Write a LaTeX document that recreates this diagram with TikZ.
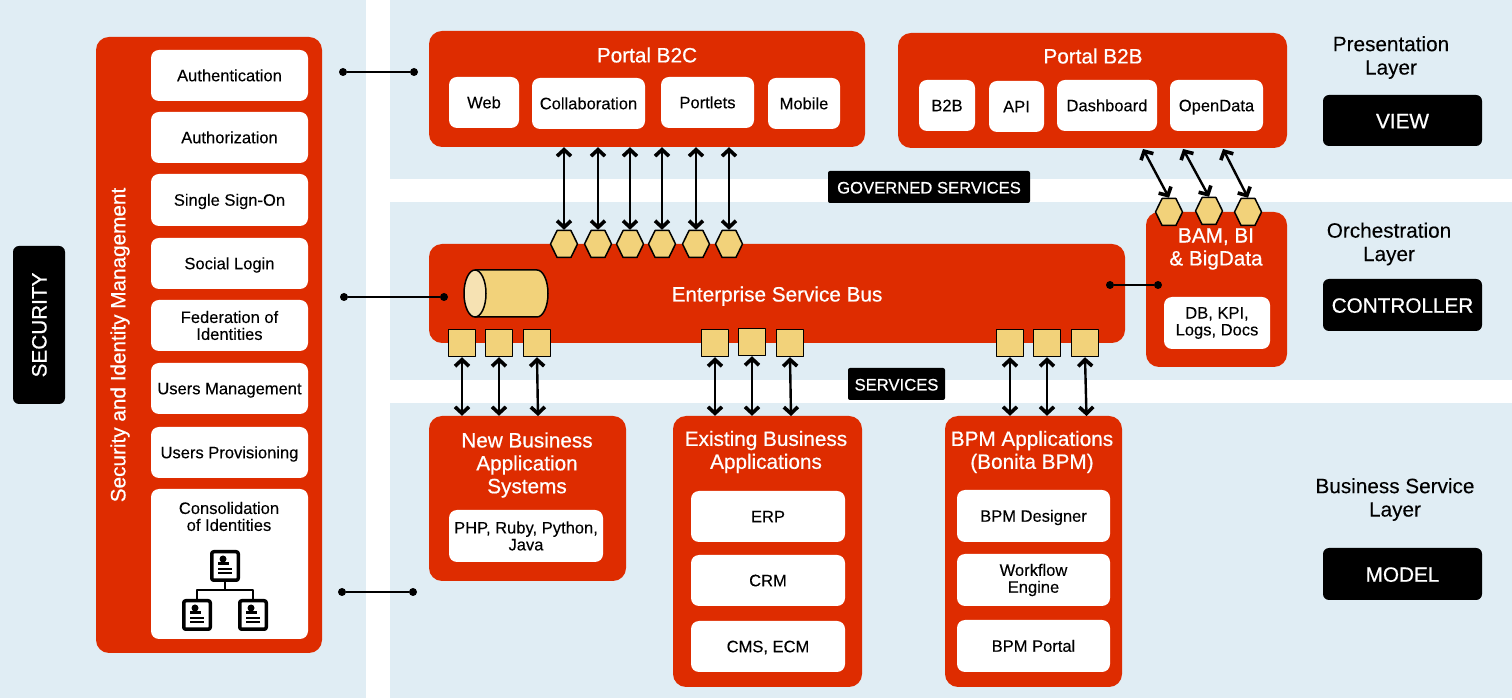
\documentclass[tikz,border=0pt]{standalone}
\usepackage{fontspec}
\setmainfont[FakeBold=0.15]{Liberation Sans}
\newfontfamily\whitefont[FakeBold=0.6]{Liberation Sans}
\usetikzlibrary{arrows.meta,shapes.symbols}
\definecolor{panelblue}{HTML}{E0EDF4}
\definecolor{busred}{HTML}{DE2C00}
\definecolor{portyellow}{HTML}{F2D27A}
\definecolor{capyellow}{HTML}{F6E2B3}
\newcommand{\cardmark}[1]{%
  \begin{scope}[shift={(#1)}]
    \fill (-2bp,7bp) circle (3.5bp);
    \fill (-7bp,0.5bp) rectangle (4bp,4bp);
    \draw [line width=1.6bp] (-7bp,-3bp) -- (7bp,-3bp);
    \draw [line width=1.6bp] (-7bp,-7bp) -- (7bp,-7bp);
  \end{scope}}
\begin{document}
\begin{tikzpicture}[>={Straight Barb[length=6.5bp,width=14bp,line width=3.6bp]},line join=bevel,
    redbox/.style={fill=busred,rounded corners=13bp,text=white,align=center,font=\whitefont\fontsize{20.8}{23}\selectfont,inner sep=0pt},
    whitebox/.style={fill=white,rounded corners=8bp,align=center,font=\fontsize{16.6}{17}\selectfont,inner sep=0pt},
    oneline/.style={text height=13bp,text depth=1.5bp},
    blacktag/.style={fill=black,rounded corners=6bp,text=white,font=\whitefont\fontsize{20.8}{24}\selectfont,inner sep=0pt,text height=15.5bp,text depth=0pt},
    bandtag/.style={blacktag,rounded corners=2bp,font=\whitefont\fontsize{16.7}{18}\selectfont,text height=13bp},
    redtitle/.style={text=white,align=center,font=\whitefont\fontsize{20.8}{23}\selectfont,inner sep=0pt},
    layertext/.style={align=center,font=\fontsize{20.8}{23.5}\selectfont,inner sep=0pt},
    hexport/.style={draw,line width=1.5bp,fill=portyellow,signal,signal to=east and west,signal pointer angle=128,minimum width=27bp,minimum height=27bp,inner sep=0pt},
    boxport/.style={draw,line width=1.5bp,fill=portyellow,rectangle,minimum width=27bp,minimum height=27bp,inner sep=0pt},
    dotend/.style={circle,fill=black,inner sep=0pt,minimum size=8bp},
    tieline/.style={line width=1.8bp},
    link/.style={<->,line width=2.4bp},
    idcard/.style={draw,line width=3.5bp,rounded corners=2bp,fill=white,minimum width=26.5bp,minimum height=28.5bp,inner sep=0pt},
    ]
    \useasboundingbox (0bp,0bp) rectangle (1512bp,700bp);
    %% background bands
    \fill [panelblue] (0bp,2bp) rectangle (366bp,700bp);
    \fill [panelblue] (390bp,521bp) rectangle (1512bp,700bp);
    \fill [panelblue] (390bp,320bp) rectangle (1512bp,498bp);
    \fill [panelblue] (390bp,2bp) rectangle (1512bp,297bp);
    %% security column
    \node (security) at (39bp,375bp) [blacktag,rotate=90,text height=15bp,minimum width=158bp,minimum height=52bp] {SECURITY};
    \node (sim) at (209bp,355bp) [redbox,minimum width=226bp,minimum height=616bp] {};
    \node (simlabel) at (120bp,355bp) [redtitle,rotate=90] {Security and Identity Management};
    \node (auth) at (229.5bp,624.5bp) [whitebox,oneline,minimum width=157bp,minimum height=51bp] {Authentication};
    \node (authz) at (229.5bp,562.5bp) [whitebox,oneline,minimum width=157bp,minimum height=51bp] {Authorization};
    \node (sso) at (229.5bp,500bp) [whitebox,oneline,minimum width=157bp,minimum height=52bp] {Single Sign-On};
    \node (social) at (229.5bp,436.5bp) [whitebox,oneline,minimum width=157bp,minimum height=51bp] {Social Login};
    \node (federation) at (229.5bp,374.5bp) [whitebox,minimum width=157bp,minimum height=51bp] {Federation of\\Identities};
    \node (usersmgmt) at (229.5bp,311.5bp) [whitebox,oneline,minimum width=157bp,minimum height=51bp] {Users Management};
    \node (usersprov) at (229.5bp,247.5bp) [whitebox,oneline,minimum width=157bp,minimum height=51bp] {Users Provisioning};
    \node (consbox) at (229.5bp,136bp) [whitebox,minimum width=157bp,minimum height=150bp] {};
    \node (conslabel) at (229bp,183.5bp) [whitebox,fill=none] {Consolidation\\of Identities};
    %
    \node (topcard) at (225bp,134bp) [idcard] {};
    \node (leftcard) at (197bp,85bp) [idcard] {};
    \node (rightcard) at (253bp,85bp) [idcard] {};
    \coordinate (cardfork) at (225bp,110bp);
    \draw [line width=1.8bp] (topcard.south) -- (cardfork);
    \draw [line width=1.8bp] (leftcard.north) |- (cardfork);
    \draw [line width=1.8bp] (rightcard.north) |- (cardfork);
    \cardmark{topcard}
    \cardmark{leftcard}
    \cardmark{rightcard}
    %% presentation layer
    \node (b2c) at (647bp,611bp) [redbox,minimum width=436bp,minimum height=116bp] {};
    \node (b2clabel) at (647bp,645bp) [redtitle] {Portal B2C};
    \node (web) at (484bp,597.5bp) [whitebox,oneline,minimum width=70bp,minimum height=51bp] {Web};
    \node (collab) at (588.5bp,596.5bp) [whitebox,oneline,minimum width=113bp,minimum height=51bp] {Collaboration};
    \node (portlets) at (707.5bp,597.5bp) [whitebox,oneline,minimum width=93bp,minimum height=51bp] {Portlets};
    \node (mobile) at (804bp,596.5bp) [whitebox,oneline,minimum width=72bp,minimum height=51bp] {Mobile};
    \node (b2b) at (1092.5bp,609.5bp) [redbox,minimum width=389bp,minimum height=115bp] {};
    \node (b2blabel) at (1093bp,644bp) [redtitle] {Portal B2B};
    \node (b2bitem) at (947bp,594.5bp) [whitebox,oneline,minimum width=56bp,minimum height=51bp] {B2B};
    \node (api) at (1016.5bp,593.5bp) [whitebox,oneline,minimum width=55bp,minimum height=51bp] {API};
    \node (dashboard) at (1107bp,594.5bp) [whitebox,oneline,minimum width=100bp,minimum height=51bp] {Dashboard};
    \node (opendata) at (1216.5bp,594.5bp) [whitebox,oneline,minimum width=93bp,minimum height=51bp] {OpenData};
    %% right column
    \node (presentation) at (1391bp,642.5bp) [layertext] {Presentation\\Layer};
    \node (view) at (1402.5bp,579.5bp) [blacktag,minimum width=159bp,minimum height=51bp] {VIEW};
    \node (orchestration) at (1389bp,456bp) [layertext] {Orchestration\\Layer};
    \node (controller) at (1402.5bp,395bp) [blacktag,minimum width=159bp,minimum height=52bp] {CONTROLLER};
    \node (business) at (1395bp,200.5bp) [layertext] {Business Service\\Layer};
    \node (model) at (1402.5bp,126bp) [blacktag,minimum width=159bp,minimum height=52bp] {MODEL};
    %% band tags
    \node (governed) at (929bp,513bp) [bandtag,minimum width=202bp,minimum height=32bp] {GOVERNED SERVICES};
    \node (services) at (896.5bp,316bp) [bandtag,minimum width=97bp,minimum height=32bp] {SERVICES};
    %% bus
    \node (esb) at (777bp,406.5bp) [redbox,minimum width=696bp,minimum height=99bp,text height=16bp,text depth=0pt] {Enterprise Service Bus};
    \draw [line width=1.5bp,fill=portyellow] (475bp,430bp) -- (537bp,430bp) arc (90:-90:11bp and 23.5bp) -- (475bp,383bp) -- cycle;
    \draw [line width=1.5bp,fill=capyellow] (475bp,406.5bp) ellipse (11bp and 23.5bp);
    \node (bam) at (1216.5bp,410.5bp) [redbox,minimum width=141bp,minimum height=155bp] {};
    \node (bamlabel) at (1216bp,451bp) [redtitle] {BAM, BI\\\& BigData};
    \node (dbkpi) at (1217bp,377bp) [whitebox,minimum width=106bp,minimum height=52bp] {DB, KPI,\\Logs, Docs};
    %% business services
    \node (newapps) at (527.5bp,201.5bp) [redbox,minimum width=197bp,minimum height=165bp] {};
    \node (newlabel) at (527bp,235bp) [redtitle] {New Business\\Application\\Systems};
    \node (php) at (526bp,164bp) [whitebox,minimum width=154bp,minimum height=52bp] {PHP, Ruby, Python,\\Java};
    \node (existing) at (767.5bp,148.5bp) [redbox,minimum width=189bp,minimum height=271bp] {};
    \node (existlabel) at (766bp,248bp) [redtitle] {Existing Business\\Applications};
    \node (erp) at (768bp,183.5bp) [whitebox,oneline,minimum width=154bp,minimum height=51bp] {ERP};
    \node (crm) at (768bp,119.5bp) [whitebox,oneline,minimum width=154bp,minimum height=51bp] {CRM};
    \node (cms) at (768bp,53.5bp) [whitebox,oneline,minimum width=154bp,minimum height=51bp] {CMS, ECM};
    \node (bpm) at (1033.5bp,148.5bp) [redbox,minimum width=177bp,minimum height=271bp] {};
    \node (bpmlabel) at (1032bp,248bp) [redtitle] {BPM Applications\\(Bonita BPM)};
    \node (designer) at (1033.5bp,184bp) [whitebox,oneline,minimum width=153bp,minimum height=52bp] {BPM Designer};
    \node (workflow) at (1033.5bp,120bp) [whitebox,minimum width=153bp,minimum height=52bp] {Workflow\\Engine};
    \node (bpmportal) at (1033.5bp,54bp) [whitebox,oneline,minimum width=153bp,minimum height=52bp] {BPM Portal};
    %% ports
    \node (h1) at (564bp,456bp) [hexport] {};
    \node (h2) at (598bp,456bp) [hexport] {};
    \node (h3) at (630bp,456bp) [hexport] {};
    \node (h4) at (662bp,456bp) [hexport] {};
    \node (h5) at (696bp,456bp) [hexport] {};
    \node (h6) at (729bp,456bp) [hexport] {};
    \node (h7) at (1169bp,488bp) [hexport] {};
    \node (h8) at (1209bp,489bp) [hexport] {};
    \node (h9) at (1248bp,488bp) [hexport] {};
    \node (s1) at (462bp,357bp) [boxport] {};
    \node (s2) at (499bp,357bp) [boxport] {};
    \node (s3) at (537bp,357bp) [boxport] {};
    \node (s4) at (715bp,357bp) [boxport] {};
    \node (s5) at (752bp,358bp) [boxport] {};
    \node (s6) at (790bp,357bp) [boxport] {};
    \node (s7) at (1010bp,357bp) [boxport] {};
    \node (s8) at (1047bp,357bp) [boxport] {};
    \node (s9) at (1085bp,357bp) [boxport] {};
    %% connectors
    \draw [link] (h1.north) -- (h1.north |- b2c.south);
    \draw [link] (h2.north) -- (h2.north |- b2c.south);
    \draw [link] (h3.north) -- (h3.north |- b2c.south);
    \draw [link] (h4.north) -- (h4.north |- b2c.south);
    \draw [link] (h5.north) -- (h5.north |- b2c.south);
    \draw [link] (h6.north) -- (h6.north |- b2c.south);
    \coordinate (b2bt1) at (1143bp,551bp);
    \coordinate (b2bt2) at (1183bp,551bp);
    \coordinate (b2bt3) at (1223bp,551bp);
    \draw [link] (h7.north) -- (b2bt1);
    \draw [link] (h8.north) -- (b2bt2);
    \draw [link] (h9.north) -- (b2bt3);
    \coordinate (newt3) at (538bp,284bp);
    \coordinate (existt3) at (791bp,284bp);
    \coordinate (bpmt3) at (1086.5bp,284bp);
    \draw [link] (s1.south) -- (s1.south |- newapps.north);
    \draw [link] (s2.south) -- (s2.south |- newapps.north);
    \draw [link] (s3.south) -- (newt3);
    \draw [link] (s4.south) -- (s4.south |- existing.north);
    \draw [link] (s5.south) -- (s5.south |- existing.north);
    \draw [link] (s6.south) -- (existt3);
    \draw [link] (s7.south) -- (s7.south |- bpm.north);
    \draw [link] (s8.south) -- (s8.south |- bpm.north);
    \draw [link] (s9.south) -- (bpmt3);
    %% dotted ties
    \node (d1) at (343bp,628bp) [dotend] {};
    \node (d2) at (414bp,628bp) [dotend] {};
    \node (d3) at (344bp,403bp) [dotend] {};
    \node (d4) at (444bp,403bp) [dotend] {};
    \node (d5) at (342bp,108bp) [dotend] {};
    \node (d6) at (413bp,108bp) [dotend] {};
    \node (d7) at (1110bp,415bp) [dotend] {};
    \node (d8) at (1158bp,415bp) [dotend] {};
    \draw [tieline] (d1) -- (d2);
    \draw [tieline] (d3) -- (d4);
    \draw [tieline] (d5) -- (d6);
    \draw [tieline] (d7) -- (d8);
    %
\end{tikzpicture}
\end{document}
